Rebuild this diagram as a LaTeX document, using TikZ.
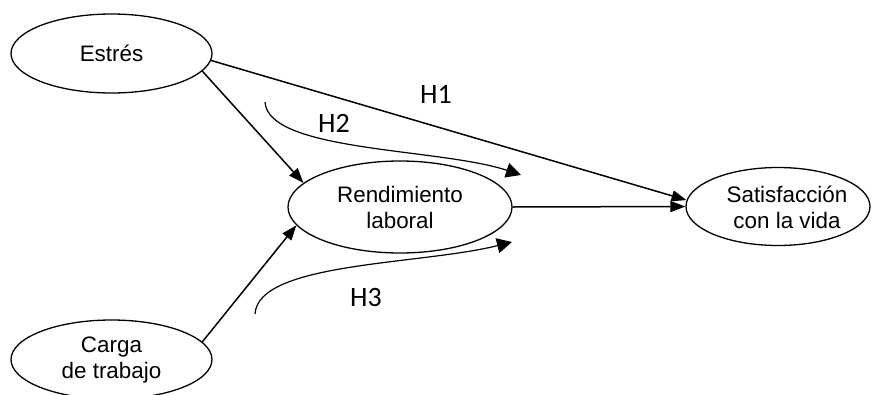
\documentclass[tikz,border=0pt]{standalone}
\usepackage{fontspec}
\setmainfont{Liberation Sans}
\newfontfamily\hfont{Carlito}
\usetikzlibrary{shapes.geometric,arrows.meta}
\begin{document}
\begin{tikzpicture}[x=1pt,y=-1pt,
  ell/.style={draw, ellipse, line width=1.3pt, inner sep=0pt},
  lbl/.style={font=\fontsize{22.4}{26}\selectfont, align=center, inner sep=0pt},
  conn/.style={line width=1.5pt, -{Triangle[length=15pt,width=11pt]}},
  curv/.style={line width=1.2pt, -{Triangle[length=15pt,width=15pt]}},
  hl/.style={font=\hfont\fontsize{28}{32}\selectfont, inner sep=0pt}]
\useasboundingbox (0,0) rectangle (873,394);
\node[ell, lbl, minimum width=201pt, minimum height=79pt] (estres) at (111.5,53.5) {Estrés};
\node[ell, lbl, minimum width=224pt, minimum height=92pt] (rend) at (400,207) {Rendimiento\\laboral};
\node[ell, minimum width=184pt, minimum height=78pt] (sat) at (778,206.5) {};
\node[lbl] (sattext) at (787,207) {Satisfacción\\con la vida};
\node[ell, lbl, minimum width=201pt, minimum height=79pt] (carga) at (111.5,359.5) {Carga\\de trabajo};
\draw[conn] (estres.-11) -- (rend.166);
\draw[conn] (estres.-4) -- (sat.176);
\draw[conn] (rend.0) -- (sat.180);
\draw[conn] (carga.11) -- (rend.190);
\coordinate (h2s) at (265,102);
\coordinate (h2e) at (521,175);
\draw[curv] (h2s) .. controls (268,152) and (440,148) .. (h2e);
\coordinate (h3s) at (255,314);
\coordinate (h3e) at (512,242);
\draw[curv] (h3s) .. controls (258,262) and (420,265) .. (h3e);
\node[hl] (h1) at (436,94) {H1};
\node[hl] (h2) at (334,123.3) {H2};
\node[hl] (h3) at (366,297.5) {H3};
\end{tikzpicture}
\end{document}
